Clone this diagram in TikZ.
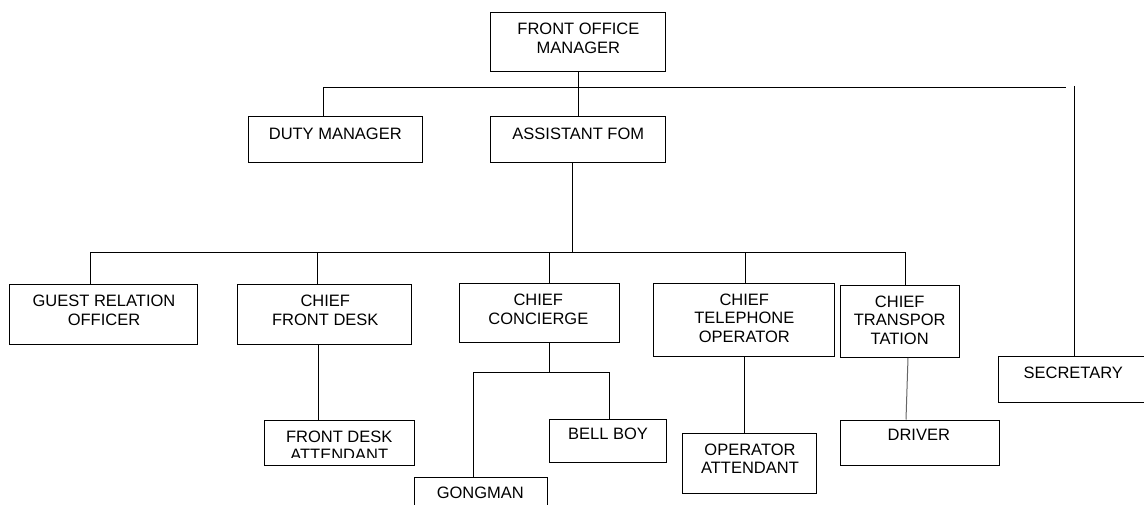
\documentclass[tikz,border=0pt]{standalone}
\usepackage{fontspec}
\setmainfont{Liberation Sans}
\usetikzlibrary{fit}
\begin{document}
\begin{tikzpicture}[x=1pt,y=-1pt,
  box/.style={draw=black, line width=1pt, inner sep=0pt, rectangle},
  lbl/.style={inner sep=0pt, align=center, font=\fontsize{16.5}{18.5}\selectfont, text=black},
  conn/.style={draw=black, line width=1pt}]
\clip (0,0) rectangle (1144,505);
\fill[white] (0,0) rectangle (1144,505);
% boxes
\node[box, fit={(490.7,12.3) (665.7,71.7)}] (fom) {};
\node[box, fit={(248.3,116.7) (422.7,162.7)}] (duty) {};
\node[box, fit={(490.7,116.7) (665.7,162.7)}] (afom) {};
\node[box, fit={(9.3,284.3) (197.7,344.3)}] (gro) {};
\node[box, fit={(237.7,284.3) (411,344.3)}] (cfd) {};
\node[box, fit={(459,283.3) (619,342.7)}] (cc) {};
\node[box, fit={(653.7,283.3) (834.3,356.7)}] (cto) {};
\node[box, fit={(840,285.7) (959,357.3)}] (ct) {};
\node[box, fit={(264,420) (414,465.7)}] (fda) {};
\node[box, fit={(549,419) (666.7,462.3)}] (bb) {};
\node[box, fit={(414,477.7) (547.7,520)}] (gong) {};
\node[box, fit={(682.7,433.3) (816.7,493.3)}] (oa) {};
\node[box, fit={(840,420) (999,465.7)}] (drv) {};
\node[box, fit={(998,356) (1150,402)}] (sec) {};
% labels
\node[lbl] (fom-t) at (578.4,38.4) {FRONT OFFICE\\MANAGER};
\node[lbl] (duty-t) at (335.3,134.2) {DUTY MANAGER};
\node[lbl] (afom-t) at (578.3,134.2) {ASSISTANT FOM};
\node[lbl] (gro-t) at (104,310.4) {GUEST RELATION\\OFFICER};
\node[lbl] (cfd-t) at (325.3,310.4) {CHIEF\\FRONT DESK};
\node[lbl] (cc-t) at (538.3,309.4) {CHIEF\\CONCIERGE};
\node[lbl] (cto-t) at (744.3,317.9) {CHIEF\\TELEPHONE\\OPERATOR};
\node[lbl] (ct-t) at (899.7,320.3) {CHIEF\\TRANSPOR\\TATION};
\begin{scope}
\clip (264,420) rectangle (414,457.5);
\node[lbl] (fda-t) at (339.2,445.8) {FRONT DESK\\ATTENDANT};
\end{scope}
\node[lbl] (bb-t) at (608,433.8) {BELL BOY};
\node[lbl] (gong-t) at (480.3,493) {GONGMAN};
\node[lbl] (oa-t) at (750,458.7) {OPERATOR\\ATTENDANT};
\node[lbl] (drv-t) at (918.8,435) {DRIVER};
\node[lbl] (sec-t) at (1073.3,373) {SECRETARY};
% connectors, level 1
\coordinate (h1L) at (323.3,87.3);
\coordinate (h1R) at (1066,87.3);
\draw[conn] (h1L) -- (h1R);
\draw[conn] (fom.south) -- (afom.north);
\draw[conn] (h1L) -- (h1L |- duty.north);
\coordinate (secTop) at (1074,86);
\draw[conn] (secTop) -- (secTop |- sec.north);
% level 2
\coordinate (h2M) at (572.3,252.5);
\coordinate (h2L) at (90.7,252.5);
\coordinate (h2R) at (905.7,252.5);
\draw[conn] (h2M |- afom.south) -- (h2M);
\draw[conn] (h2L) -- (h2R);
\draw[conn] (h2L) -- (h2L |- gro.north);
\coordinate (k2) at (317.7,252.5);
\draw[conn] (k2) -- (k2 |- cfd.north);
\coordinate (k3) at (549.3,252.5);
\draw[conn] (k3) -- (k3 |- cc.north);
\coordinate (k4) at (745.3,252.5);
\draw[conn] (k4) -- (k4 |- cto.north);
\draw[conn] (h2R) -- (h2R |- ct.north);
% level 3
\coordinate (v1) at (318,0);
\draw[conn] (v1 |- cfd.south) -- (v1 |- fda.north);
\coordinate (c1) at (549,372.3);
\coordinate (c1L) at (473.3,372.3);
\coordinate (c1R) at (609,372.3);
\draw[conn] (c1 |- cc.south) -- (c1);
\draw[conn] (c1L |- gong.north) -- (c1L) -- (c1R) -- (c1R |- bb.north);
\coordinate (v2) at (744.3,0);
\draw[conn] (v2 |- cto.south) -- (v2 |- oa.north);
\coordinate (v3a) at (908,0);
\coordinate (v3b) at (906,0);
\draw[conn, draw=black!60] (v3a |- ct.south) -- (v3b |- drv.north);
\end{tikzpicture}
\end{document}
